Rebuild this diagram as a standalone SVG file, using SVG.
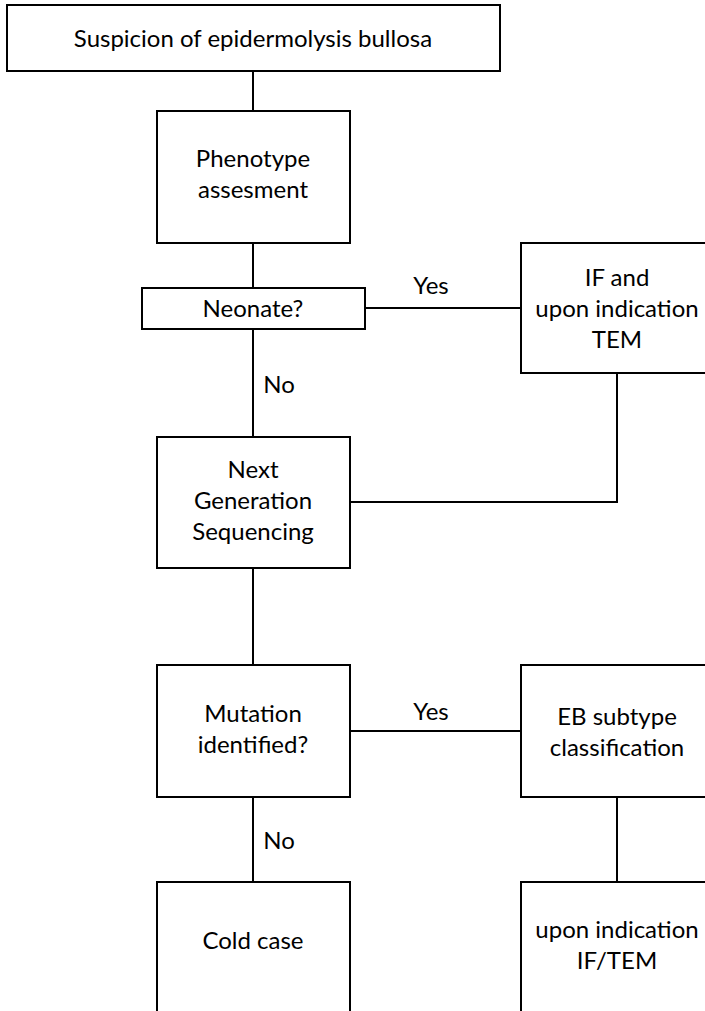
<svg xmlns="http://www.w3.org/2000/svg" width="705" height="1011" viewBox="0 0 705 1011">
<style>
.box{fill:#fff;stroke:#000;stroke-width:2}
.ln{fill:none;stroke:#000;stroke-width:2}
text{font-family:Lato,"Liberation Sans",sans-serif;font-size:24px;fill:#000;text-anchor:middle}
</style>
<rect width="705" height="1011" fill="#fff"/>
<g id="connectors">
<path class="ln" d="M253 71V111"/>
<path class="ln" d="M253 243V288"/>
<path class="ln" d="M365 308H521"/>
<path class="ln" d="M253 329V437"/>
<path class="ln" d="M617 373V502H350"/>
<path class="ln" d="M253 568V665"/>
<path class="ln" d="M350 731H521"/>
<path class="ln" d="M253 797V882"/>
<path class="ln" d="M617 797V882"/>
<text x="431" y="294">Yes</text>
<text x="279" y="393">No</text>
<text x="431" y="720">Yes</text>
<text x="279" y="849">No</text>
</g>
<g id="n1"><rect class="box" x="7" y="5" width="493" height="66"/><text x="253" y="47">Suspicion of epidermolysis bullosa</text></g>
<g id="n2"><rect class="box" x="157" y="111" width="193" height="132"/><text x="253" y="167">Phenotype</text><text x="253" y="198">assesment</text></g>
<g id="n3"><rect class="box" x="142" y="288" width="223" height="41"/><text x="253" y="317">Neonate?</text></g>
<g id="n4"><rect class="box" x="521" y="243" width="192" height="130"/><text x="617" y="286">IF and</text><text x="617" y="317">upon indication</text><text x="617" y="348">TEM</text></g>
<g id="n5"><rect class="box" x="157" y="437" width="193" height="131"/><text x="253" y="478">Next</text><text x="253" y="509">Generation</text><text x="253" y="540">Sequencing</text></g>
<g id="n6"><rect class="box" x="157" y="665" width="193" height="132"/><text x="253" y="722">Mutation</text><text x="253" y="753">identified?</text></g>
<g id="n7"><rect class="box" x="521" y="665" width="192" height="132"/><text x="617" y="725">EB subtype</text><text x="617" y="756">classification</text></g>
<g id="n8"><rect class="box" x="157" y="882" width="193" height="140"/><text x="253" y="949">Cold case</text></g>
<g id="n9"><rect class="box" x="521" y="882" width="192" height="140"/><text x="617" y="938">upon indication</text><text x="617" y="969">IF/TEM</text></g>
</svg>
